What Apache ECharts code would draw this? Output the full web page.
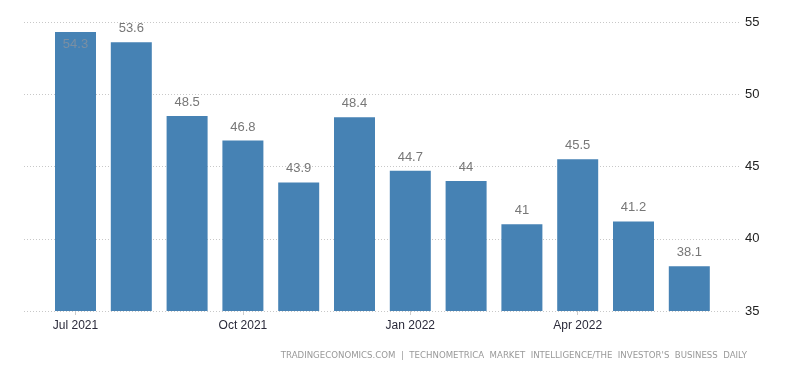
<!DOCTYPE html>
<html><head><meta charset="utf-8">
<script src="https://cdn.jsdelivr.net/npm/echarts@6/dist/echarts.min.js"></script>
<style>html,body{margin:0;padding:0;background:#fff}#c{width:800px;height:373px}</style>
</head><body><div id="c"></div>
<script>
const categories = ['Jul 2021','Aug 2021','Sep 2021','Oct 2021','Nov 2021','Dec 2021','Jan 2022','Feb 2022','Mar 2022','Apr 2022','May 2022','Jun 2022'];
const values = [54.3, 53.6, 48.5, 46.8, 43.9, 48.4, 44.7, 44, 41, 45.5, 41.2, 38.1];
const yTicks = {min: 35, max: 55, interval: 5};
const sourceText = 'TRADINGECONOMICS.COM  |  TECHNOMETRICA  MARKET  INTELLIGENCE/THE  INVESTOR\'S  BUSINESS  DAILY';

const chart = echarts.init(document.getElementById('c'));
const font = 'Liberation Sans, Arial, sans-serif';
const data = values.map(v => v >= yTicks.max - 1 ? {value: v, label: {position: 'insideTop', distance: 6, color: '#7a8fa3'}} : v);
chart.setOption({
  animation: false,
  grid: [
    {left: 24, right: 60, top: 22, bottom: 62},
    {left: 47.6, right: 82.8, top: 22, bottom: 62}
  ],
  xAxis: [
    {gridIndex: 0, type: 'category', data: categories, show: false},
    {gridIndex: 1, type: 'category', data: categories,
     axisLine: {show: false},
     axisTick: {show: true, alignWithLabel: true, interval: 2, length: 4, lineStyle: {color: '#ccc'}},
     axisLabel: {interval: 2, color: '#2a2a3a', fontFamily: font, fontSize: 12, margin: 9}}
  ],
  yAxis: [
    {gridIndex: 0, type: 'value', position: 'right', min: yTicks.min, max: yTicks.max, interval: yTicks.interval,
     axisLine: {show: false}, axisTick: {show: false},
     splitLine: {show: true, lineStyle: {color: '#c8c8c8', type: [1, 2], width: 1}},
     axisLabel: {color: '#222', fontFamily: font, fontSize: 13, margin: 5}},
    {gridIndex: 1, type: 'value', min: yTicks.min, max: yTicks.max, interval: yTicks.interval, show: false, splitLine: {show: false}}
  ],
  series: [{
    type: 'bar', xAxisIndex: 1, yAxisIndex: 1, data: data,
    barWidth: 41,
    itemStyle: {color: '#4682b4'},
    label: {show: true, position: 'top', distance: 7, color: '#777', fontFamily: font, fontSize: 13}
  }],
  graphic: [{
    type: 'text', right: 53, top: 351,
    style: {text: sourceText, fill: '#999', font: '8.6px DejaVu Sans, Verdana, sans-serif'}
  }]
});
</script></body></html>
